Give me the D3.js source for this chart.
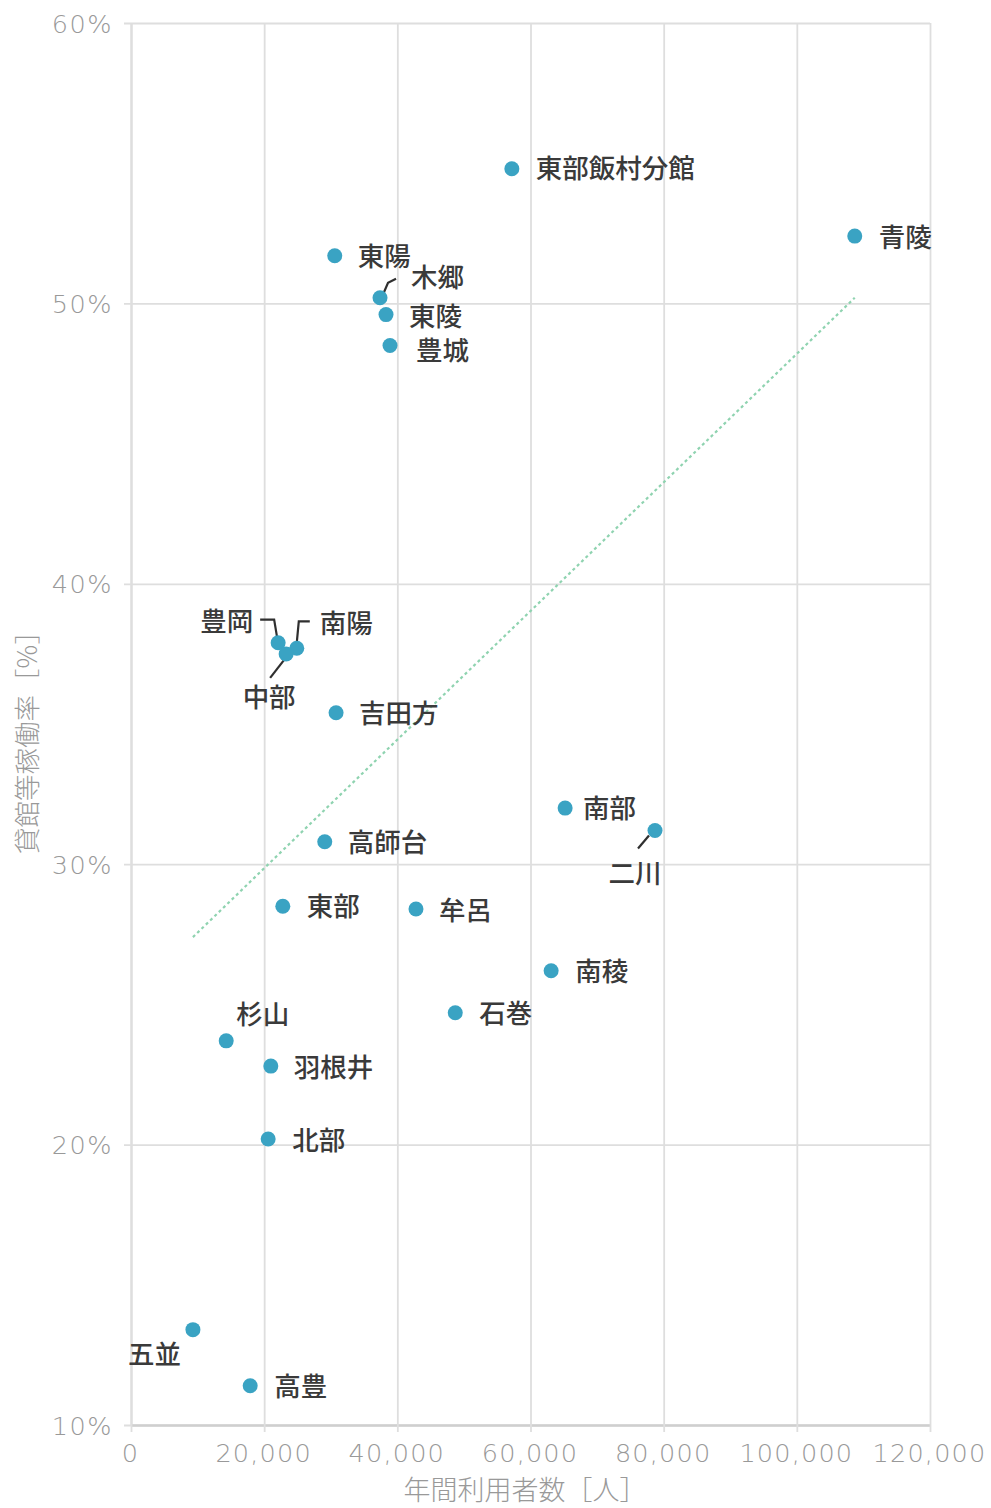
<!DOCTYPE html>
<html><head><meta charset="utf-8">
<script src="https://cdn.jsdelivr.net/npm/d3@7"></script>
<style>
html,body{margin:0;padding:0;background:#fff;}
svg{display:block;}
</style></head>
<body>
<svg id="chart" width="991" height="1508"></svg>
<script>
// ---- data ----
const names = ["東部飯村分館","青陵","東陽","木郷","東陵","豊城","豊岡","南陽","中部","吉田方","南部","二川","高師台","東部","牟呂","南稜","石巻","杉山","羽根井","北部","五並","高豊"];
const users = [57200,108700,30600,37400,38300,38900,22100,24900,23300,30800,65200,78700,29100,22800,42800,63100,48700,14300,21000,20600,9300,17900];
const rates = [54.8,52.4,51.7,50.2,49.6,48.5,37.9,37.7,37.5,35.4,32.0,31.2,30.8,28.5,28.4,26.2,24.7,23.7,22.8,20.2,13.4,11.4];
const xTicks = [0,20000,40000,60000,80000,100000,120000];
const yTicks = [10,20,30,40,50,60];
const trendX = [9300,108700];
const trendY = [27.4,50.2];
const xTitle = "年間利用者数［人］";
const yTitle = "貸館等稼働率［%］";

// ---- layout (label placement relative to each dot) ----
const labelLayout = {
  "東部飯村分館":{dx:24,dy:0,anchor:"start"},
  "青陵":{dx:24,dy:1,anchor:"start"},
  "東陽":{dx:23,dy:1,anchor:"start"},
  "木郷":{dx:31,dy:-20,anchor:"start",leader:[[2,-1],[8,-15],[16,-19]]},
  "東陵":{dx:23,dy:2,anchor:"start"},
  "豊城":{dx:26,dy:5,anchor:"start"},
  "豊岡":{dx:-25,dy:-21,anchor:"end",leader:[[-18,-23],[-4,-23],[-1,-5]]},
  "南陽":{dx:23,dy:-25,anchor:"start",leader:[[13,-27],[2,-27],[0,-6]]},
  "中部":{dx:-17,dy:44,anchor:"middle",leader:[[-2,6],[-16,24]]},
  "吉田方":{dx:23,dy:1,anchor:"start"},
  "南部":{dx:18,dy:0,anchor:"start"},
  "二川":{dx:-20,dy:43,anchor:"middle",leader:[[-6,5],[-17,18]]},
  "高師台":{dx:23,dy:1,anchor:"start"},
  "東部":{dx:24,dy:0,anchor:"start"},
  "牟呂":{dx:23,dy:1,anchor:"start"},
  "南稜":{dx:24,dy:1,anchor:"start"},
  "石巻":{dx:24,dy:1,anchor:"start"},
  "杉山":{dx:10,dy:-26,anchor:"start"},
  "羽根井":{dx:23,dy:1,anchor:"start"},
  "北部":{dx:24,dy:1,anchor:"start"},
  "五並":{dx:-12,dy:25,anchor:"end"},
  "高豊":{dx:24,dy:1,anchor:"start"}
};

const svg = d3.select("#chart");
const mLeft = 131, mRight = 930, mTop = 23, mBottom = 1425;
const x = d3.scaleLinear().domain([0,120000]).range([mLeft,mRight]);
const y = d3.scaleLinear().domain([10,60]).range([mBottom,mTop]);

const gridColor = "#dedede";
const tickFont = "'DejaVu Sans', 'Liberation Sans', sans-serif";

// x axis with vertical gridlines
const gx = svg.append("g").attr("transform",`translate(0,${mBottom})`)
  .call(d3.axisBottom(x).tickValues(xTicks).tickSize(7).tickSizeOuter(0)
    .tickFormat(d => d3.format(",")(d)));
gx.select(".domain").attr("stroke","#cfcfcf").attr("stroke-width",2.5);
gx.selectAll(".tick line").attr("stroke",gridColor).attr("stroke-width",1.8).attr("y1",-(mBottom-mTop));
gx.selectAll(".tick text").attr("y",37).attr("dy",0).attr("dx",-1)
  .attr("fill","#999").attr("font-family",tickFont).attr("font-size",25.5).attr("font-weight",200)
  .attr("letter-spacing",1.2);

// y axis with horizontal gridlines
const gy = svg.append("g").attr("transform",`translate(${mLeft},0)`)
  .call(d3.axisLeft(y).tickValues(yTicks).tickSize(7).tickSizeOuter(0)
    .tickFormat(d => d + "%"));
gy.select(".domain").attr("stroke","#d4d4d4").attr("stroke-width",2);
gy.selectAll(".tick line").attr("stroke",gridColor).attr("stroke-width",1.8).attr("x1",mRight-mLeft);
gy.selectAll(".tick text").attr("x",-18).attr("dy","0.36em")
  .attr("fill","#999").attr("font-family",tickFont).attr("font-size",25.5).attr("font-weight",200)
  .attr("letter-spacing",1.5);
gx.raise();

// axis titles
svg.append("text").attr("x",525).attr("y",1500).attr("text-anchor","middle")
  .attr("font-family","'Noto Sans CJK JP', sans-serif").attr("font-size",27).attr("font-weight",300)
  .attr("fill","#999").text(xTitle);
svg.append("text").attr("transform","translate(37,736) rotate(-90)").attr("text-anchor","middle")
  .attr("font-family","'Noto Sans CJK JP', sans-serif").attr("font-size",26.5).attr("font-weight",300)
  .attr("fill","#999").text(yTitle);

// trend line
svg.append("line")
  .attr("x1",x(trendX[0])).attr("y1",y(trendY[0]))
  .attr("x2",x(trendX[1])).attr("y2",y(trendY[1]))
  .attr("stroke","#8fd3b0").attr("stroke-width",2.2).attr("stroke-dasharray","3,3");

const pts = names.map((n,i) => ({name:n, ux:users[i], r:rates[i]}));

// leader lines
const lineGen = d3.line();
svg.append("g").selectAll("path")
  .data(pts.filter(d => labelLayout[d.name].leader))
  .join("path")
  .attr("d", d => lineGen(labelLayout[d.name].leader.map(p => [x(d.ux)+p[0], y(d.r)+p[1]])))
  .attr("fill","none").attr("stroke","#2f2f2f").attr("stroke-width",2.2);

// dots
svg.append("g").selectAll("circle").data(pts).join("circle")
  .attr("cx", d => x(d.ux)).attr("cy", d => y(d.r)).attr("r",7.5)
  .attr("fill","#3aa3c3");

// labels
svg.append("g").selectAll("text").data(pts).join("text")
  .attr("x", d => x(d.ux) + labelLayout[d.name].dx)
  .attr("y", d => y(d.r) + labelLayout[d.name].dy)
  .attr("dy","0.36em")
  .attr("text-anchor", d => labelLayout[d.name].anchor)
  .attr("font-family","'Noto Sans CJK JP', sans-serif").attr("font-size",26.5).attr("font-weight",500)
  .attr("fill","#3a3a3a")
  .text(d => d.name);
</script>
</body></html>
